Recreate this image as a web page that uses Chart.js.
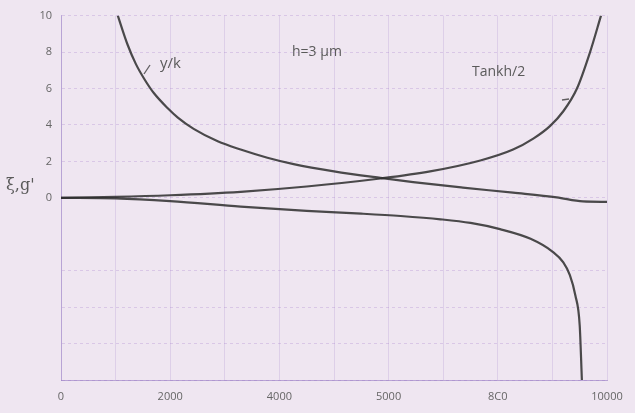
<!DOCTYPE html>
<html><head><meta charset="utf-8">
<script src="https://cdn.jsdelivr.net/npm/chart.js@4.4.0/dist/chart.umd.min.js"></script>
<style>
html,body{margin:0;padding:0;background:#eee5f0;}
#wrap{width:635px;height:413px;position:relative;}
</style></head><body>
<div id="wrap"><canvas id="c" width="635" height="413"></canvas></div>
<script>
// curves
const ykX   = [1040, 1220, 1370, 1520, 1700, 1960, 2140, 2430, 2870, 3290, 3780, 4260, 5000, 5850, 6450, 7360, 8280, 9080, 9560, 10000];
const ykY   = [10, 8.4, 7.35, 6.55, 5.75, 4.9, 4.4, 3.78, 3.1, 2.65, 2.2, 1.85, 1.45, 1.09, 0.86, 0.56, 0.28, 0.02, -0.2, -0.22];
const thX   = [0, 1000, 2000, 3290, 4500, 5850, 6760, 7680, 8280, 8650, 8960, 9200, 9450, 9690, 9890];
const thY   = [0, 0.05, 0.14, 0.33, 0.62, 1.06, 1.45, 2.05, 2.65, 3.25, 3.95, 4.75, 6.0, 8.0, 10];
const lowX  = [0, 1000, 2000, 3290, 4500, 5500, 6220, 6950, 7500, 8040, 8600, 9000, 9200, 9320, 9420, 9500, 9540];
const lowY  = [0, -0.03, -0.18, -0.48, -0.72, -0.87, -1.0, -1.18, -1.38, -1.72, -2.25, -2.95, -3.55, -4.25, -5.35, -7.0, -10];
const xTickLabels = {0:'0', 2000:'2000', 4000:'4000', 6000:'5000', 8000:'8C0', 10000:'10000'};
const yTickLabels = {0:'0', 2:'2', 4:'4', 6:'6', 8:'8', 10:'10'};
const annotations = [
  {text:'y/k', x:160, y:64, size:15},
  {text:'h=3 µm', x:292, y:52, size:14},
  {text:'Tankh/2', x:472, y:72, size:14}
];

const pts = (xs, ys) => xs.map((x, i) => ({x, y: ys[i]}));
const lineStyle = {showLine:true, borderColor:'rgba(45,45,45,0.85)', borderWidth:2.2, pointRadius:0, fill:false, cubicInterpolationMode:'monotone'};

const bgPlugin = {
  id:'bg',
  beforeDraw(chart){
    const ctx = chart.ctx;
    ctx.save(); ctx.fillStyle='#efe6f1'; ctx.fillRect(0,0,chart.width,chart.height); ctx.restore();
  },
  afterDraw(chart){
    const ctx = chart.ctx;
    ctx.save();
    ctx.fillStyle='#5a5a5a';
    ctx.textBaseline='middle';
    annotations.forEach(a => {
      ctx.font = a.size + 'px "Open Sans", "Liberation Sans", sans-serif';
      ctx.fillText(a.text, a.x, a.y);
    });
    ctx.font = '16px "DejaVu Serif", serif';
    ctx.fillText("ξ,g'", 6, 186);
    ctx.strokeStyle='rgba(60,60,60,0.8)'; ctx.lineWidth=1.3;
    ctx.beginPath(); ctx.moveTo(150,65); ctx.lineTo(144,74); ctx.stroke();
    ctx.beginPath(); ctx.moveTo(562,100); ctx.lineTo(569,99); ctx.stroke();
    ctx.restore();
  }
};

new Chart(document.getElementById('c'), {
  type:'scatter',
  data:{datasets:[
    Object.assign({label:'y/k', data:pts(ykX, ykY)}, lineStyle),
    Object.assign({label:'Tankh/2', data:pts(thX, thY)}, lineStyle),
    Object.assign({label:'lower', data:pts(lowX, lowY)}, lineStyle)
  ]},
  options:{
    responsive:false, animation:false, devicePixelRatio:1,
    layout:{padding:{top:13, right:28, left:0, bottom:0}},
    plugins:{legend:{display:false}, tooltip:{enabled:false}},
    scales:{
      x:{type:'linear', min:0, max:10000,
        afterFit(s){ s.height = 33; },
        border:{display:true, color:'rgba(140,110,190,0.55)'},
        grid:{color:'rgba(150,115,200,0.2)', lineWidth:1, tickLength:0, drawTicks:false},
        ticks:{stepSize:1000, autoSkip:false, maxRotation:0, padding:10, color:'#666',
          font:{size:11, family:'"Open Sans", "Liberation Sans", sans-serif'},
          callback:(v) => (v in xTickLabels) ? xTickLabels[v] : ''}
      },
      y:{type:'linear', min:-10, max:10,
        afterFit(s){ s.width = 61; },
        border:{display:true, color:'rgba(140,110,190,0.45)', dash:[3,3]},
        grid:{color:(c) => (c.tick && c.tick.value === -2) ? 'rgba(0,0,0,0)' : 'rgba(160,120,200,0.28)', tickLength:0, drawTicks:false},
        ticks:{stepSize:2, autoSkip:false, padding:9, color:'#666',
          font:{size:11, family:'"Open Sans", "Liberation Sans", sans-serif'},
          callback:(v) => (v in yTickLabels) ? yTickLabels[v] : ''}
      }
    }
  },
  plugins:[bgPlugin]
});
</script>
</body></html>
